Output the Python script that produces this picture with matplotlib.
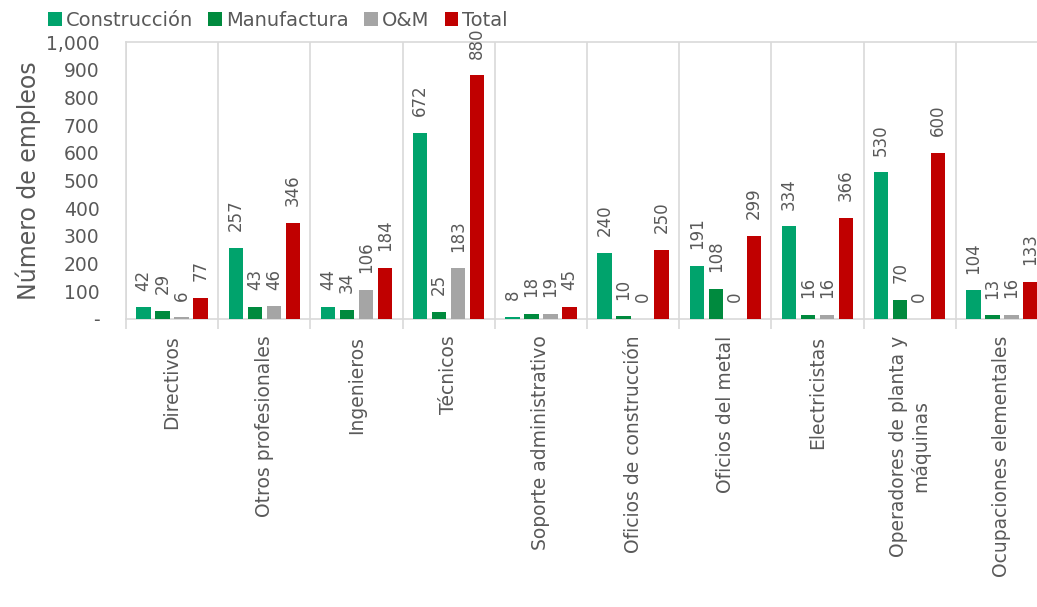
import numpy as np
import matplotlib
matplotlib.use('Agg')
import matplotlib.pyplot as plt
from matplotlib.ticker import FuncFormatter

# Empleos por ocupación y tipo de actividad
categorias = ['Directivos', 'Otros profesionales', 'Ingenieros', 'Técnicos',
              'Soporte administrativo', 'Oficios de construcción', 'Oficios del metal',
              'Electricistas', 'Operadores de planta y\nmáquinas', 'Ocupaciones elementales']
construccion = [42, 257, 44, 672, 8, 240, 191, 334, 530, 104]
manufactura = [29, 43, 34, 25, 18, 10, 108, 16, 70, 13]
om = [6, 46, 106, 183, 19, 0, 0, 16, 0, 16]
total = [77, 346, 184, 880, 45, 250, 299, 366, 600, 133]

series = [('Construcción', construccion, '#00A36C'),
          ('Manufactura', manufactura, '#008A3E'),
          ('O&M', om, '#A5A5A5'),
          ('Total', total, '#C00000')]

gris = '#595959'
linea = '#D9D9D9'
plt.rcParams['font.family'] = ['DejaVu Sans']

fig = plt.figure(figsize=(10.37, 6.07), dpi=100)
ax = fig.add_axes([0.1215, 0.4745, 0.8891, 0.4563])

x = np.arange(len(categorias))
ancho = 0.155
paso = 0.206
for i, (nombre, valores, color) in enumerate(series):
    pos = x + (i - 1.5) * paso
    ax.bar(pos, valores, width=ancho, color=color, label=nombre, zorder=3)
    for xp, v in zip(pos, valores):
        ax.annotate(f'{v}', (xp, v), xytext=(0, 12), textcoords='offset points',
                    rotation=90, ha='center', va='bottom', fontsize=12,
                    color=gris, annotation_clip=False)

ax.set_xlim(-0.5, len(categorias) - 0.5)
ax.set_ylim(0, 1000)
ax.set_yticks(range(0, 1001, 100))
ax.yaxis.set_major_formatter(FuncFormatter(lambda v, p: '-' if v == 0 else f'{int(v):,}'))
ax.tick_params(axis='y', length=0, pad=19, labelsize=13.5, labelcolor=gris)

ax.set_xticks(x)
ax.set_xticklabels(categorias, rotation=90, va='top', ha='center', fontsize=13.5,
                   color=gris, linespacing=1.15)
ax.tick_params(axis='x', which='major', length=0, pad=12)
ax.set_xticks(np.arange(-0.5, len(categorias), 1), minor=True)
ax.tick_params(axis='x', which='minor', length=7, width=1.2, color=linea)
ax.grid(axis='x', which='minor', color=linea, linewidth=1.2, zorder=0)

for lado in ['top', 'bottom', 'left', 'right']:
    ax.spines[lado].set_color(linea)
    ax.spines[lado].set_linewidth(1.2)

ax.set_ylabel('Número de empleos', fontsize=17, color=gris, labelpad=4)

fig.legend(loc='center', bbox_to_anchor=(0.268, 0.967), ncol=4, frameon=False,
           fontsize=14, labelcolor=gris, handlelength=0.7, handleheight=0.7,
           handletextpad=0.2, columnspacing=0.8, borderaxespad=0)

fig.savefig('out.png', dpi=100)
